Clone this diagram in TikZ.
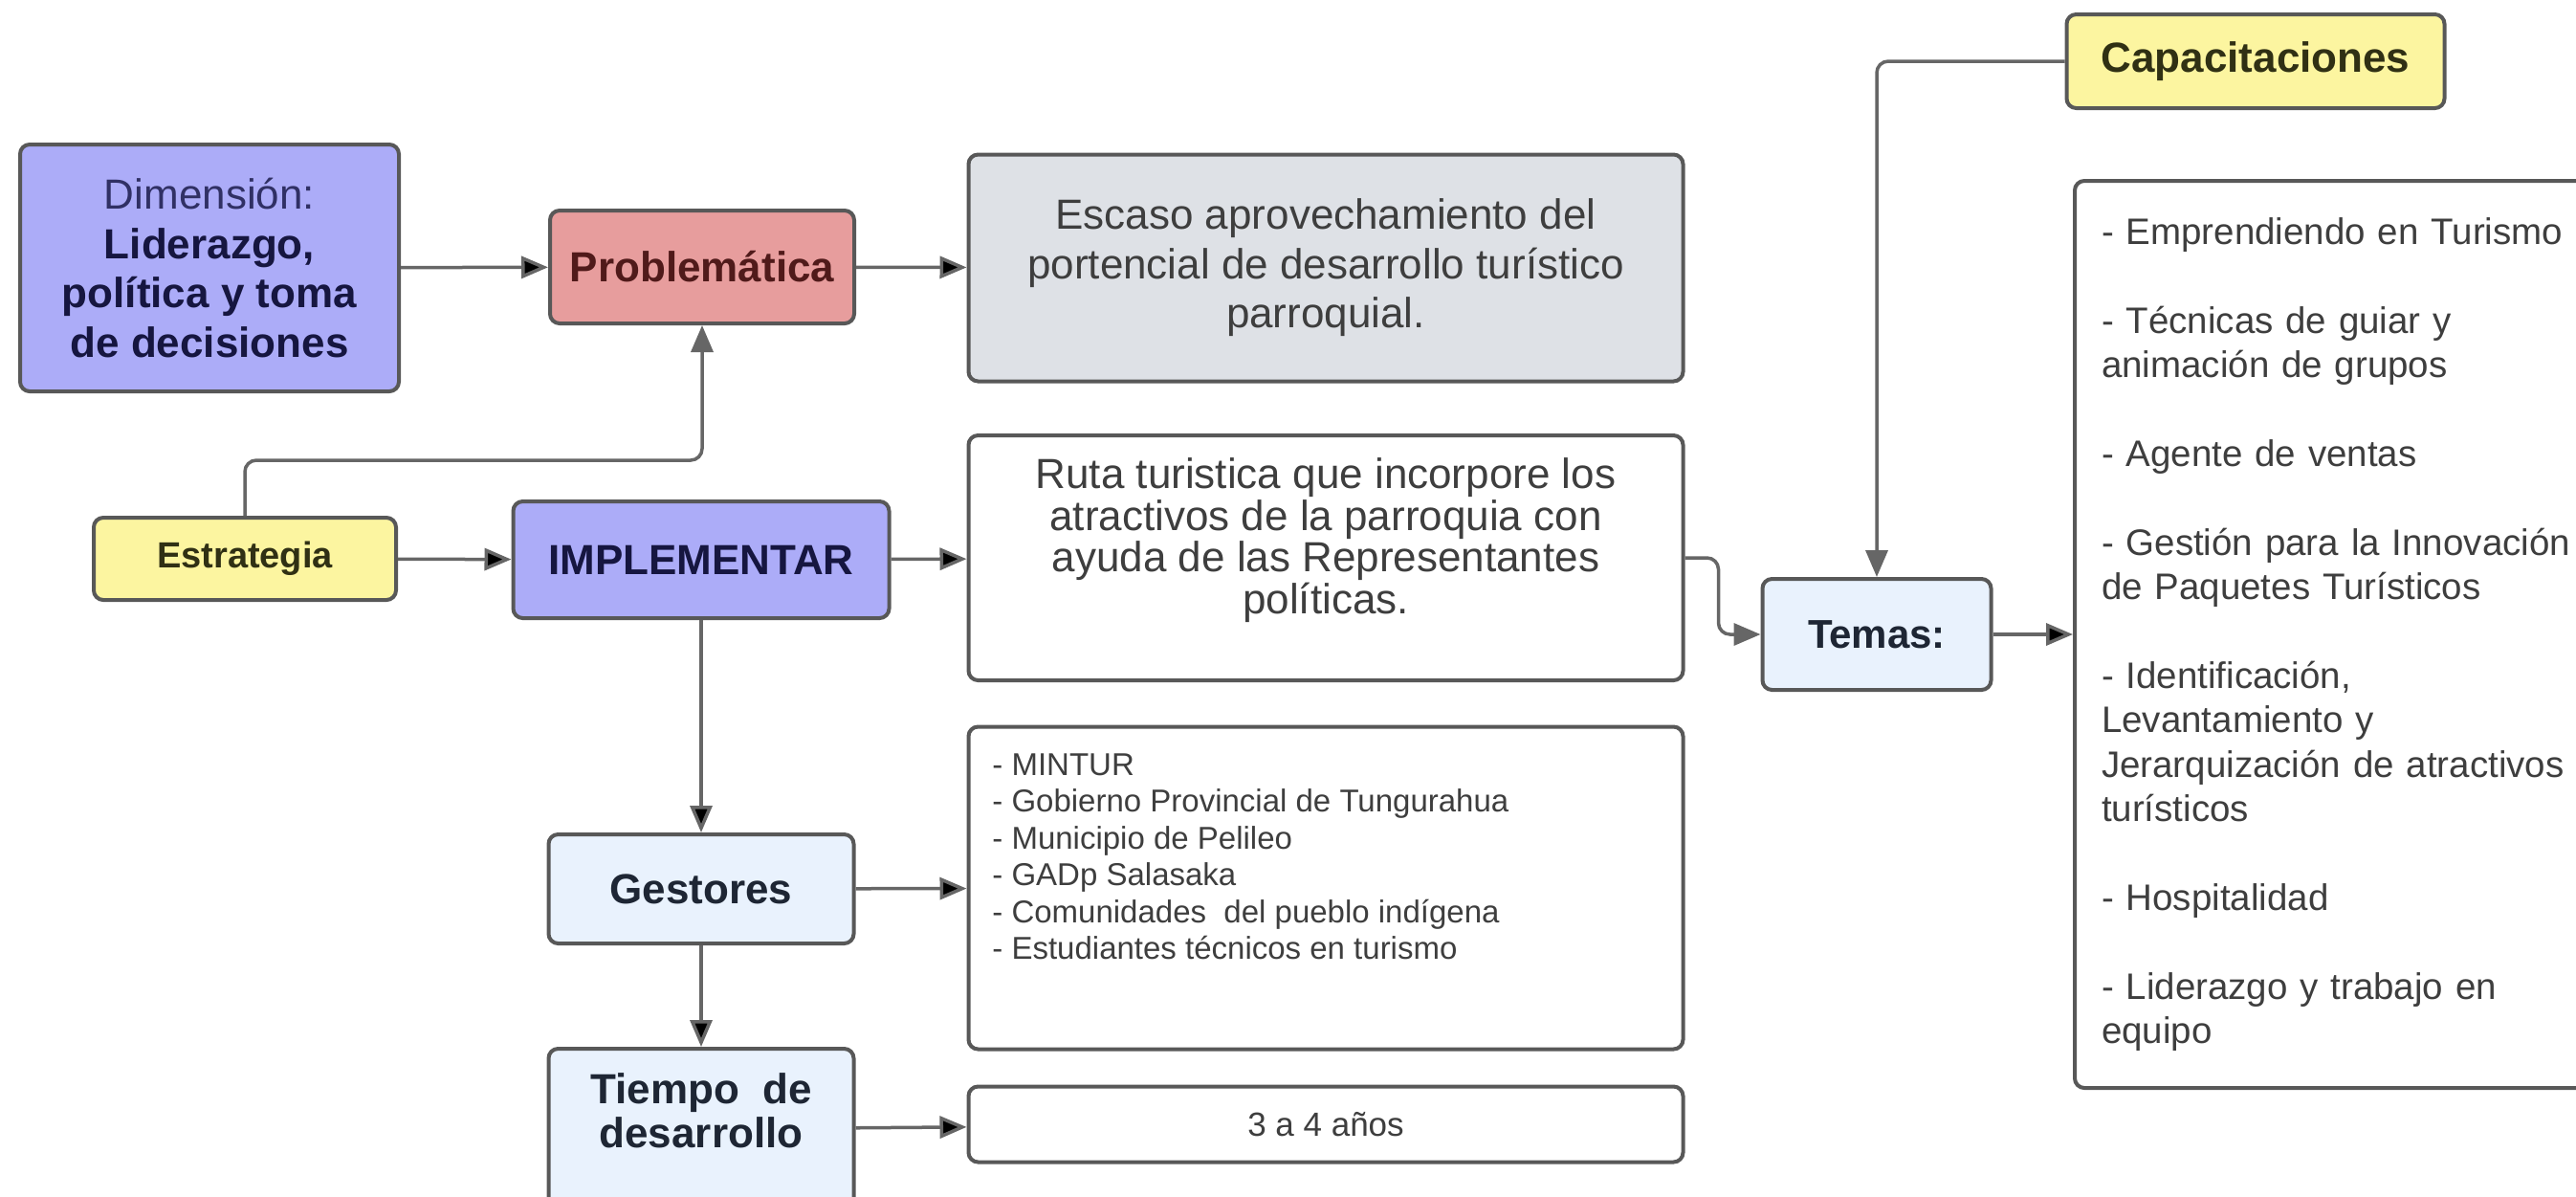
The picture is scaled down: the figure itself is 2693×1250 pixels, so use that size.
\documentclass[tikz,border=0pt]{standalone}
\usepackage{fontspec}
\setmainfont{Liberation Sans}
\usetikzlibrary{arrows.meta}
\definecolor{boxline}{RGB}{88,88,88}
\definecolor{linkgray}{RGB}{102,102,102}
\definecolor{lavfill}{RGB}{172,172,248}
\definecolor{redfill}{RGB}{231,157,157}
\definecolor{grayfill}{RGB}{222,225,230}
\definecolor{yelfill}{RGB}{252,245,160}
\definecolor{bluefill}{RGB}{233,242,253}
\definecolor{navytext}{RGB}{22,22,64}
\definecolor{navysub}{RGB}{48,48,100}
\definecolor{redtext}{RGB}{80,26,26}
\definecolor{yeltext}{RGB}{48,48,20}
\definecolor{bluetext}{RGB}{30,38,52}
\definecolor{bodytext}{RGB}{62,62,62}

\begin{document}
\begin{tikzpicture}[x=0.5pt,y=-0.5pt,
	box/.style={draw=boxline,line width=2pt,rounded corners=5pt,align=center,inner sep=0pt},
	lavbox/.style={box,fill=lavfill,text=navytext},
	redbox/.style={box,fill=redfill,text=redtext},
	graybox/.style={box,fill=grayfill,text=bodytext},
	yelbox/.style={box,fill=yelfill,text=yeltext},
	bluebox/.style={box,fill=bluefill,text=bluetext},
	whitebox/.style={box,fill=white,text=bodytext},
	big/.style={font=\fontsize{22}{25.75}\selectfont},
	bigbold/.style={font=\fontsize{22}{25.75}\selectfont\bfseries},
	link/.style={draw=linkgray,line width=1.75pt,rounded corners=6pt,-{Triangle[length=14pt,width=11.5pt]}}]
\useasboundingbox (0,0) rectangle (2693,1250);
	% left column
	\draw (219, 280) node[lavbox,big,minimum width=198pt,minimum height=129pt] (dim)
		{{\color{navysub}Dimensión:}\\ \textbf{Liderazgo,}\\ \textbf{política y toma}\\ \textbf{de decisiones}};
	\draw (256, 584) node[yelbox,font=\fontsize{19}{22}\selectfont\bfseries,minimum width=158pt,minimum height=43pt] (estr) {Estrategia};
	% middle column
	\draw (734, 279) node[redbox,bigbold,minimum width=159pt,minimum height=59pt] (prob) {Problemática};
	\draw (733, 585) node[lavbox,bigbold,minimum width=196.5pt,minimum height=61pt] (impl) {IMPLEMENTAR};
	\draw (733, 929) node[bluebox,bigbold,minimum width=159.5pt,minimum height=57pt] (gest) {Gestores};
	\draw (733,1180) node[bluebox,font=\fontsize{22}{23}\selectfont\bfseries,text depth=19pt,minimum width=159.5pt,minimum height=84pt] (tiempo)
		{Tiempo\ \ de\\desarrollo};
	% text boxes
	\draw (1386, 280) node[graybox,big,minimum width=373.5pt,minimum height=118.5pt] (escaso)
		{Escaso aprovechamiento del\\portencial de desarrollo turístico\\parroquial.};
	\draw (1386, 583) node[whitebox,font=\fontsize{22}{21.75}\selectfont,text depth=23pt,minimum width=373.5pt,minimum height=128pt] (ruta)
		{Ruta turistica que incorpore los\\atractivos de la parroquia con\\ayuda de las Representantes\\políticas.};
	\draw (1386, 928) node[whitebox,minimum width=373.5pt,minimum height=168.5pt] (gestlist) {};
	\draw (1037, 787) node[anchor=north west,inner sep=0pt,align=left,text=bodytext,font=\fontsize{16.5}{19.25}\selectfont] (gestxt)
		{- MINTUR\\- Gobierno Provincial de Tungurahua\\- Municipio de Pelileo\\- GADp Salasaka\\- Comunidades\ \ del pueblo indígena\\- Estudiantes técnicos en turismo};
	\draw (1386,1175) node[whitebox,font=\fontsize{17.5}{20}\selectfont,minimum width=373.5pt,minimum height=39.5pt] (tres) {3 a 4 años};
	% right column
	\draw (2358,  64) node[yelbox,bigbold,minimum width=197.5pt,minimum height=49pt] (cap) {Capacitaciones};
	\draw (1962, 663) node[bluebox,font=\fontsize{21}{24}\selectfont\bfseries,minimum width=119.5pt,minimum height=58pt] (temas) {Temas:};
	\draw (2449, 663) node[whitebox,align=left,inner xsep=14pt,text width=252pt,minimum height=474pt,
		font=\fontsize{19.25}{23.2}\selectfont] (temalist)
		{- Emprendiendo en Turismo\\[23.2pt]- Técnicas de guiar y\\animación de grupos\\[23.2pt]- Agente de ventas\\[23.2pt]%
		 \mbox{- Gestión para la Innovación}\\de Paquetes Turísticos\\[23.2pt]- Identificación,\\Levantamiento y\\\mbox{Jerarquización de atractivos}\\turísticos\\[23.2pt]%
		 - Hospitalidad\\[23.2pt]- Liderazgo y trabajo en\\equipo};
	% connectors
	\coordinate (estrbend) at (734,481);
	\draw[link] (dim) edge (prob);
	\draw[link] (prob) edge (escaso);
	\draw[link] (estr.north) |- (estrbend) -- (prob.south);
	\draw[link] (estr) edge (impl);
	\draw[link] (impl) edge (ruta);
	\draw[link] (impl) edge (gest);
	\draw[link] (gest) edge (gestlist);
	\draw[link] (gest) edge (tiempo);
	\draw[link] (tiempo) edge (tres);
	\draw[link] (ruta.east) -- ++(35,0) |- (temas.west);
	\draw[link] (cap.west) -| (temas.north);
	\draw[link] (temas) edge (temalist);
\end{tikzpicture}
\end{document}
